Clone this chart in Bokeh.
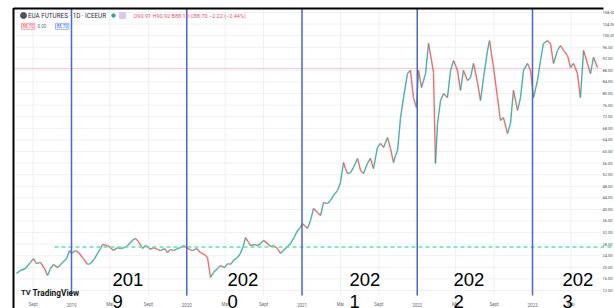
from bokeh.plotting import figure
from bokeh.models import Range1d, Label
from bokeh.embed import file_html
from bokeh.resources import INLINE
from bokeh.core.properties import value

# ---------------- data ----------------
dates = [
    2018.523, 2018.557, 2018.601, 2018.644, 2018.670, 2018.696, 2018.731, 2018.766, 2018.792, 2018.818,
    2018.844, 2018.879, 2018.922, 2018.957, 2018.983, 2019.000, 2019.035, 2019.061, 2019.104, 2019.139,
    2019.165, 2019.200, 2019.226, 2019.252, 2019.269, 2019.312, 2019.338, 2019.364, 2019.399, 2019.425,
    2019.460, 2019.486, 2019.529, 2019.555, 2019.581, 2019.616, 2019.642, 2019.659, 2019.685, 2019.711,
    2019.746, 2019.772, 2019.807, 2019.833, 2019.859, 2019.885, 2019.920, 2019.946, 2019.972, 2019.998,
    2020.024, 2020.050, 2020.085, 2020.119, 2020.154, 2020.180, 2020.206, 2020.232, 2020.267, 2020.293,
    2020.328, 2020.354, 2020.380, 2020.406, 2020.440, 2020.466, 2020.492, 2020.510, 2020.536, 2020.553,
    2020.588, 2020.614, 2020.640, 2020.666, 2020.701, 2020.727, 2020.753, 2020.787, 2020.813, 2020.839,
    2020.874, 2020.900, 2020.935, 2020.961, 2020.987,
    2021.004, 2021.048, 2021.074, 2021.100, 2021.134, 2021.161, 2021.187, 2021.221, 2021.247, 2021.273,
    2021.308, 2021.334, 2021.360, 2021.377, 2021.395, 2021.421, 2021.447, 2021.482, 2021.508, 2021.534,
    2021.568, 2021.594, 2021.620, 2021.655, 2021.681, 2021.707, 2021.742, 2021.768, 2021.794, 2021.811,
    2021.829, 2021.855, 2021.881, 2021.915, 2021.941, 2021.967, 2021.993,
    2022.011, 2022.037, 2022.072, 2022.098, 2022.124, 2022.141, 2022.158, 2022.176, 2022.202, 2022.228,
    2022.262, 2022.289, 2022.315, 2022.349, 2022.375, 2022.401, 2022.436, 2022.462, 2022.488, 2022.523,
    2022.549, 2022.575, 2022.610, 2022.627, 2022.662, 2022.696, 2022.722, 2022.748, 2022.783, 2022.809,
    2022.835, 2022.870, 2022.896, 2022.922, 2022.957, 2022.983,
    2023.009, 2023.043, 2023.069, 2023.095, 2023.130, 2023.156, 2023.182, 2023.217, 2023.243, 2023.269,
    2023.304, 2023.330, 2023.356, 2023.390, 2023.416, 2023.443, 2023.477, 2023.503, 2023.529, 2023.564,
]
closes = [
    17.9, 18.9, 19.6, 21.7, 23.0, 21.3, 21.7, 19.6, 17.2, 19.6,
    21.0, 19.9, 21.7, 23.0, 25.8, 24.8, 25.8, 25.1, 23.0, 21.0,
    21.3, 23.0, 24.8, 26.5, 27.9, 27.5, 26.8, 25.8, 26.8, 26.5,
    26.8, 27.5, 29.3, 30.0, 28.9, 26.5, 27.5, 27.2, 26.2, 26.8,
    26.2, 25.8, 26.5, 25.1, 26.2, 25.8, 26.5, 26.8, 27.5, 26.8,
    26.2, 25.8, 26.5, 25.1, 24.4, 23.4, 16.5, 18.2, 19.6, 20.6,
    19.9, 21.3, 21.0, 22.4, 23.4, 24.8, 27.5, 30.3, 28.6, 27.5,
    27.9, 27.5, 28.2, 29.3, 28.2, 27.2, 27.5, 26.5, 24.8, 25.8,
    27.2, 28.2, 30.6, 32.7, 33.8,
    35.1, 33.4, 36.2, 40.3, 38.9, 37.9, 42.4, 42.0, 43.1, 44.8,
    46.5, 49.3, 56.2, 54.1, 52.4, 52.7, 54.5, 57.6, 53.4, 52.4,
    55.9, 57.6, 54.1, 61.4, 62.8, 61.4, 64.8, 61.0, 56.2, 58.6,
    60.3, 71.7, 78.6, 86.9, 88.0, 78.6, 75.2,
    88.0, 82.1, 86.9, 97.3, 91.4, 87.3, 55.9, 69.7, 77.6, 80.0,
    78.6, 88.0, 91.4, 88.0, 81.1, 88.0, 84.5, 85.5, 90.4, 83.8,
    77.6, 85.5, 94.9, 98.3, 89.0, 78.6, 70.7, 71.7, 66.2, 69.7,
    81.1, 74.2, 78.6, 88.0, 90.4, 88.0,
    78.6, 84.5, 91.4, 97.3, 98.3, 97.3, 90.4, 94.9, 96.6, 94.9,
    93.1, 89.0, 90.4, 86.9, 78.6, 94.9, 90.4, 86.9, 92.5, 89.0,
]

year_marks = [2019.0, 2020.0, 2021.0, 2022.0, 2023.0]
year_notes_top = ["201", "202", "202", "202", "202"]
year_notes_bottom = ["9", "0", "1", "2", "3"]
support_level = 27.0
last_price = 88.70

price_ticks = [108, 104, 100, 96, 92, 88, 84, 80, 76, 72, 68, 64, 60,
               56, 52, 48, 44, 40, 36, 32, 28, 24, 20, 16, 12]
price_tick_labels = ["108.00", "104.00", "100.00", "96.00", "92.00", "88.00", "84.00",
                     "80.00", "76.00", "72.00", "68.00", "64.00", "60.00", "56.00",
                     "52.00", "48.00", "44.00", "40.00", "36.00", "32.00", "28.00",
                     "24.00", "20.00", "16.00", "12.00"]
time_ticks = [2018.667, 2019.0, 2019.333, 2019.667, 2020.0, 2020.333, 2020.667,
              2021.0, 2021.333, 2021.667, 2022.0, 2022.333, 2022.667, 2023.0, 2023.333]
time_tick_labels = ["Sept", "2019", "Mai", "Sept", "2020", "Mai", "Sept",
                    "2021", "Mai", "Sept", "2022", "Mai", "Sept", "2023", "Mai"]

header_title = "EUA FUTURES · 1D · ICEEUR"
header_ohlc = "O90.91 H90.92 B88.10 C88.70 −2.22 (−2.44%)"
box_left, box_mid, box_right = "88.70", "0.00", "88.70"
brand = "TradingView"

# ---------------- layout helpers (picture pixels -> data) ----------------
W, H = 614, 308


def tx(px):
    return 2019.0 + (px - 71.0) / 115.25


def vy(py):
    return 12.0 + (290.0 - py) / 2.896


p = figure(width=W, height=H, x_range=Range1d(tx(0), tx(614)), y_range=Range1d(vy(308), vy(0)),
           output_backend="svg", toolbar_location=None, min_border=0,
           x_axis_location=None, y_axis_location=None)
p.grid.visible = False
p.outline_line_color = None
p.background_fill_color = "white"

# faint grid
p.segment(x0=tx(14), x1=tx(601), y0=price_ticks, y1=price_ticks, line_color="#eef0f5", line_width=1)
p.segment(x0=time_ticks, x1=time_ticks, y0=vy(295), y1=vy(9), line_color="#eef0f5", line_width=1)

# last price line
p.segment(x0=tx(14), x1=tx(601), y0=last_price, y1=last_price, line_color="#f6c3cb", line_width=1)

# price path (candle-like coloured steps)
UP, DOWN = "#26a69a", "#ef5350"
seg_colors = [UP if b >= a else DOWN for a, b in zip(closes[:-1], closes[1:])]
p.segment(x0=dates[:-1], y0=closes[:-1], x1=dates[1:], y1=closes[1:],
          line_color=seg_colors, line_width=1.4, line_alpha=0.85)

# support dashed line
p.segment(x0=tx(54), x1=tx(614), y0=support_level, y1=support_level,
          line_color="#5ee3a5", line_width=1.5, line_dash="4 3")

# year separators
p.segment(x0=year_marks, x1=year_marks, y0=vy(295), y1=vy(8), line_color="#4766d8", line_width=1.5)

# black frame (left + top)
p.segment(x0=tx(13), x1=tx(13), y0=vy(308), y1=vy(7.5), line_color="black", line_width=2)
p.segment(x0=tx(13), x1=tx(603), y0=vy(8), y1=vy(8), line_color="black", line_width=1.8)

# price scale labels
p.text(x=tx(602), y=price_ticks, text=price_tick_labels, text_font=value("Roboto"),
       text_font_size="4px", text_color="#4a4d57", text_align="left", text_baseline="middle")

# time scale labels
p.text(x=time_ticks, y=vy(304), text=time_tick_labels, text_font=value("Roboto"),
       text_font_size="4.5px", text_color="#6a6d78", text_align="center", text_baseline="middle")

# header
p.scatter(x=[tx(23)], y=[vy(15)], size=6, color="#50535e")
p.add_layout(Label(x=tx(27.5), y=vy(15.2), text=header_title, text_font="Roboto",
                   text_font_size="6.3px", text_color="#2a2e39", text_baseline="middle"))
p.scatter(x=[tx(113)], y=[vy(15)], size=3.5, color="#22ab94")
p.scatter(x=[tx(122)], y=[vy(15)], size=6, marker="square", color="#d9c8f2")
p.add_layout(Label(x=tx(133), y=vy(15.2), text=header_ohlc, text_font="Roboto",
                   text_font_size="5.5px", text_color="#f0526a", text_baseline="middle"))
p.add_layout(Label(x=tx(21), y=vy(25.8), text=box_left, text_font="Roboto", text_font_size="4.5px",
                   text_color="#f23645", text_baseline="middle", border_line_color="#f7a1ad",
                   background_fill_color="white", padding=1))
p.add_layout(Label(x=tx(37), y=vy(25.8), text=box_mid, text_font="Roboto", text_font_size="4.5px",
                   text_color="#6a6d78", text_baseline="middle"))
p.add_layout(Label(x=tx(55), y=vy(25.8), text=box_right, text_font="Roboto", text_font_size="4.5px",
                   text_color="#2962ff", text_baseline="middle", border_line_color="#9db4f5",
                   background_fill_color="white", padding=1))

# TradingView brand
p.add_layout(Label(x=tx(20.5), y=vy(292), text="TV", text_font="Roboto", text_font_size="7.5px",
                   text_font_style="bold", text_color="#131722", text_baseline="middle"))
p.add_layout(Label(x=tx(32), y=vy(292), text=brand, text_font="Roboto", text_font_size="8.3px",
                   text_font_style="bold", text_color="#131722", text_baseline="middle"))

# big year annotations
note_px = [112, 227, 349, 453, 562]
for px, top, bottom in zip(note_px, year_notes_top, year_notes_bottom):
    p.add_layout(Label(x=tx(px), y=vy(279), text=top, text_font="Liberation Sans",
                       text_font_size="18.5px", text_color="black", text_baseline="middle"))
    p.add_layout(Label(x=tx(px), y=vy(300.5), text=bottom, text_font="Liberation Sans",
                       text_font_size="18.5px", text_color="black", text_baseline="middle"))

open("out.html", "w").write(file_html(p, INLINE))
